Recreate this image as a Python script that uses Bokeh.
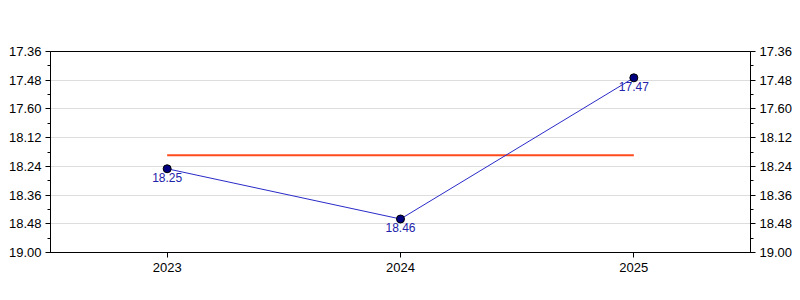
from bokeh.plotting import figure
from bokeh.models import ColumnDataSource, Range1d, FixedTicker, LinearAxis, LabelSet
from bokeh.core.properties import value
from bokeh.embed import file_html
from bokeh.resources import INLINE

# Race times per year, written as minutes.seconds
years = [2023, 2024, 2025]
times = ["18.25", "18.46", "17.47"]

# Y-axis tick labels (minutes.seconds), one every 12 seconds from 17:36 to 19:00
tick_labels = ["17.36", "17.48", "17.60", "18.12", "18.24", "18.36", "18.48", "19.00"]


def to_seconds(t):
    m, s = t.split(".")
    return int(m) * 60 + int(s)


secs = [to_seconds(t) for t in times]
mean_secs = sum(secs) / len(secs)

tick_start = 17 * 60 + 36
tick_step = 12
major_ticks = [tick_start + i * tick_step for i in range(len(tick_labels))]
minor_ticks = [t + tick_step / 2 for t in major_ticks[:-1]]
overrides = {t: lab for t, lab in zip(major_ticks, tick_labels)}

src = ColumnDataSource(dict(x=years, y=secs, label=times))

p = figure(width=800, height=300, output_backend="svg", toolbar_location=None,
           x_range=Range1d(years[0] - 0.5, years[-1] + 0.5),
           y_range=Range1d(major_ticks[-1], major_ticks[0]),
           min_border_left=50, min_border_right=50, min_border_top=51, min_border_bottom=48)
p.outline_line_color = "black"
p.outline_line_width = 1
p.background_fill_color = "white"
p.border_fill_color = "white"

yticker = FixedTicker(ticks=major_ticks, minor_ticks=minor_ticks)
p.yaxis.ticker = yticker
p.yaxis.major_label_overrides = overrides
p.xaxis.ticker = FixedTicker(ticks=years)
p.xgrid.visible = False
p.ygrid.grid_line_color = "#dddddd"
p.ygrid.grid_line_width = 1

right = LinearAxis(ticker=yticker, major_label_overrides=overrides)
p.add_layout(right, "right")

for ax in p.axis:
    ax.axis_line_color = "black"
    ax.major_tick_line_color = "black"
    ax.minor_tick_line_color = "black"
    ax.major_tick_out = 5
    ax.major_tick_in = 0
    ax.minor_tick_out = 3
    ax.minor_tick_in = 0
    ax.major_label_text_font = "Liberation Sans"
    ax.major_label_text_font_size = "13px"
    ax.major_label_text_color = "black"
    ax.major_label_standoff = 4
p.xaxis.minor_tick_out = 0
p.xaxis.major_label_standoff = 5

# Average time across the years
p.line(x=[years[0], years[-1]], y=[mean_secs, mean_secs], line_color="#ff4a1c", line_width=2)

p.line("x", "y", source=src, line_color="#2a2ac8", line_width=1)
p.scatter("x", "y", source=src, size=8, fill_color="#000080", line_color="black", line_width=1)

labels = LabelSet(x="x", y="y", text="label", source=src, text_align="center",
                  text_baseline="top", y_offset=-4, text_font=value("Liberation Sans"),
                  text_font_size=value("12px"), text_color=value("#2222aa"))
p.add_layout(labels)

open("out.html", "w").write(file_html(p, INLINE))
